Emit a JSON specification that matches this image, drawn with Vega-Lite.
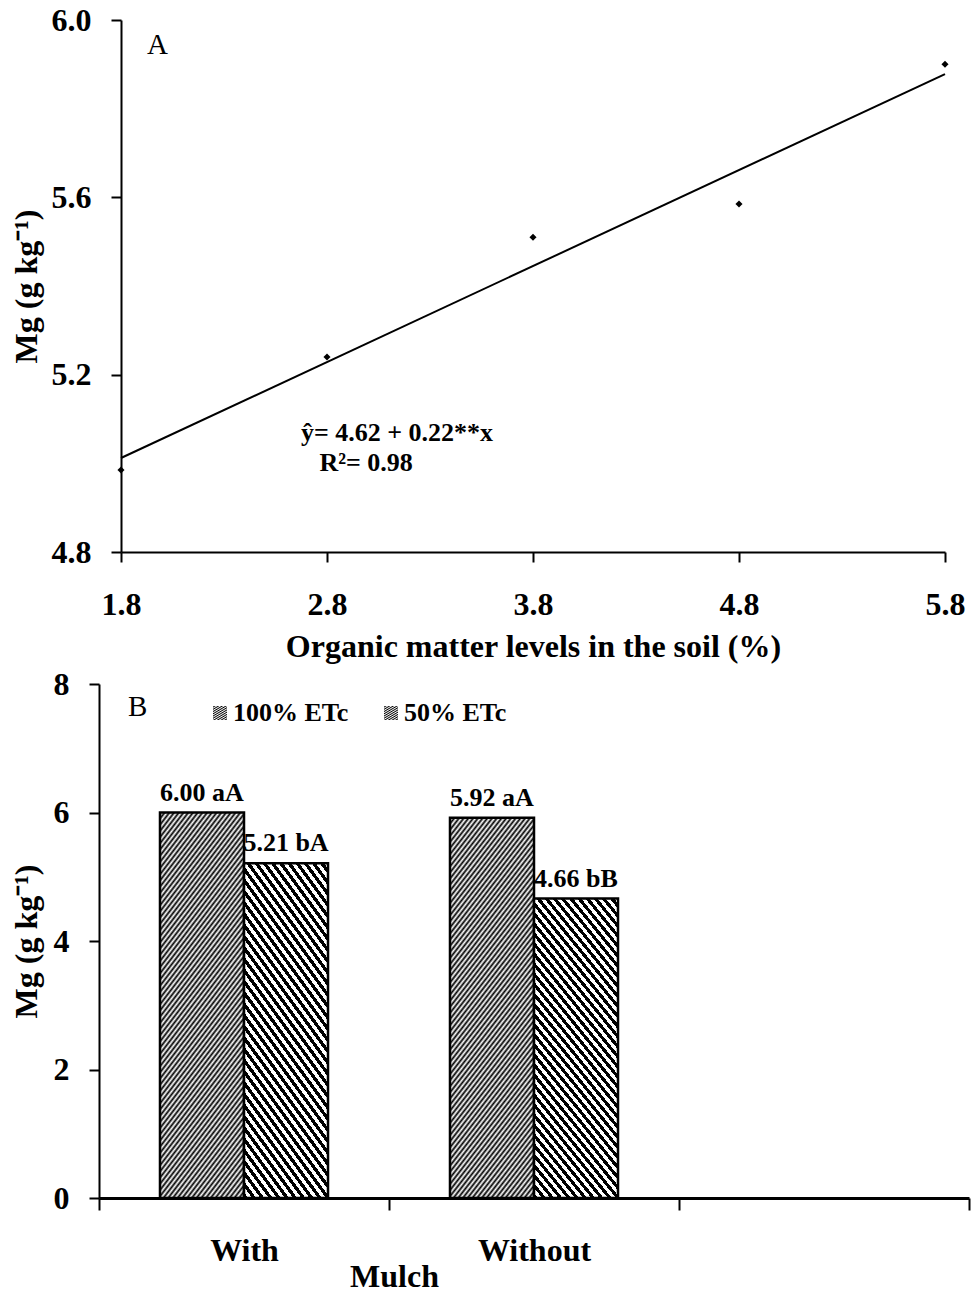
{
  "$schema": "https://vega.github.io/schema/vega-lite/v6.json",
  "background": "white",
  "padding": {"left": 10, "top": 4, "right": 0, "bottom": 0},
  "spacing": 6,
  "columns": 1,
  "align": "none",
  "config": {
    "font": "Liberation Serif",
    "view": {"stroke": null},
    "axis": {
      "grid": false,
      "domainColor": "black",
      "domainWidth": 2,
      "tickColor": "black",
      "tickWidth": 2,
      "labelColor": "black",
      "titleColor": "black",
      "labelFont": "Liberation Serif",
      "titleFont": "Liberation Serif",
      "labelFontSize": 32,
      "labelFontWeight": "bold",
      "titleFontSize": 32,
      "titleFontWeight": "bold",
      "labelFlush": false,
      "labelOverlap": false
    }
  },
  "concat": [
    {
      "width": 824,
      "height": 532,
      "layer": [
        {
          "data": {"values": [
            {"om": 1.8, "mg": 4.985},
            {"om": 2.8, "mg": 5.24},
            {"om": 3.8, "mg": 5.51},
            {"om": 4.8, "mg": 5.585},
            {"om": 5.8, "mg": 5.9}
          ]},
          "mark": {"type": "point", "shape": "diamond", "filled": true, "color": "black", "size": 50, "opacity": 1},
          "encoding": {
            "x": {"field": "om", "type": "quantitative",
              "scale": {"domain": [1.8, 5.8], "nice": false, "zero": false},
              "axis": {"values": [1.8, 2.8, 3.8, 4.8, 5.8], "format": ".1f", "title": "Organic matter levels in the soil (%)", "tickSize": 10, "labelPadding": 27, "titlePadding": 11}},
            "y": {"field": "mg", "type": "quantitative",
              "scale": {"domain": [4.8, 6.0], "nice": false, "zero": false},
              "axis": {"values": [4.8, 5.2, 5.6, 6.0], "format": ".1f", "title": "Mg (g kg⁻¹)", "tickSize": 10, "labelPadding": 20, "titlePadding": 8}}
          }
        },
        {
          "data": {"values": [
            {"om": 1.8, "mg": 5.012},
            {"om": 5.8, "mg": 5.878}
          ]},
          "mark": {"type": "line", "color": "black", "strokeWidth": 2},
          "encoding": {
            "x": {"field": "om", "type": "quantitative"},
            "y": {"field": "mg", "type": "quantitative"}
          }
        },
        {
          "data": {"values": [
            {"om": 3.14, "mg": 5.068, "t": "ŷ= 4.62 + 0.22**x"},
            {"om": 2.99, "mg": 5.0, "t": "R²= 0.98"}
          ]},
          "mark": {"type": "text", "font": "Liberation Serif", "fontSize": 26, "fontWeight": "bold", "color": "black", "align": "center", "baseline": "middle"},
          "encoding": {
            "x": {"field": "om", "type": "quantitative"},
            "y": {"field": "mg", "type": "quantitative"},
            "text": {"field": "t"}
          }
        },
        {
          "data": {"values": [
            {"om": 1.926, "mg": 5.944, "t": "A"}
          ]},
          "mark": {"type": "text", "font": "Liberation Serif", "fontSize": 29, "fontWeight": "normal", "color": "black", "align": "left", "baseline": "middle"},
          "encoding": {
            "x": {"field": "om", "type": "quantitative"},
            "y": {"field": "mg", "type": "quantitative"},
            "text": {"field": "t"}
          }
        }
      ]
    },
    {
      "width": 848,
      "height": 514,
      "title": {"text": "B", "anchor": "start", "frame": "group", "offset": -54, "fontSize": 29, "fontWeight": "normal", "color": "black", "font": "Liberation Serif", "dx": 7},
      "data": {"values": [
        {"mulch": "With", "series": "100% ETc", "mg": 6.00, "label": "6.00 aA"},
        {"mulch": "With", "series": "50% ETc", "mg": 5.21, "label": "5.21 bA"},
        {"mulch": "Without", "series": "100% ETc", "mg": 5.92, "label": "5.92 aA"},
        {"mulch": "Without", "series": "50% ETc", "mg": 4.66, "label": "4.66 bB"}
      ]},
      "encoding": {
        "x": {"field": "mulch", "type": "nominal",
          "scale": {"domain": ["With", "Without", " "], "range": [-22, 848], "paddingInner": 0, "paddingOuter": 0},
          "axis": {"title": "Mulch", "labelAngle": 0, "tickBand": "extent", "tickSize": 12, "labelPadding": 25, "domainWidth": 3, "titleX": 273, "titleY": 88, "titleAlign": "center", "titleBaseline": "alphabetic"}},
        "xOffset": {"field": "series", "type": "nominal",
          "scale": {"domain": ["100% ETc", "50% ETc"], "paddingInner": 0, "paddingOuter": 0.726}},
        "y": {"field": "mg", "type": "quantitative",
          "scale": {"domain": [0, 8], "nice": false},
          "axis": {"values": [0, 2, 4, 6, 8], "title": "Mg (g kg⁻¹)", "offset": 22, "tickSize": 10, "labelPadding": 20, "titlePadding": 10}}
      },
      "layer": [
        {
          "transform": [{"filter": "datum.series === '100% ETc'"}],
          "mark": {"type": "bar", "stroke": "black", "strokeWidth": 2.5,
            "fill": {"gradient": "linear", "x1": 0, "y1": 0, "x2": 0.339, "y2": 1.188, "stops": [
{"offset":0,"color":"#000"},{"offset":0.00625,"color":"#fff"},{"offset":0.0125,"color":"#000"},{"offset":0.01875,"color":"#fff"},{"offset":0.025,"color":"#000"},{"offset":0.03125,"color":"#fff"},{"offset":0.0375,"color":"#000"},{"offset":0.04375,"color":"#fff"},
{"offset":0.05,"color":"#000"},{"offset":0.05625,"color":"#fff"},{"offset":0.0625,"color":"#000"},{"offset":0.06875,"color":"#fff"},{"offset":0.075,"color":"#000"},{"offset":0.08125,"color":"#fff"},{"offset":0.0875,"color":"#000"},{"offset":0.09375,"color":"#fff"},
{"offset":0.1,"color":"#000"},{"offset":0.10625,"color":"#fff"},{"offset":0.1125,"color":"#000"},{"offset":0.11875,"color":"#fff"},{"offset":0.125,"color":"#000"},{"offset":0.13125,"color":"#fff"},{"offset":0.1375,"color":"#000"},{"offset":0.14375,"color":"#fff"},
{"offset":0.15,"color":"#000"},{"offset":0.15625,"color":"#fff"},{"offset":0.1625,"color":"#000"},{"offset":0.16875,"color":"#fff"},{"offset":0.175,"color":"#000"},{"offset":0.18125,"color":"#fff"},{"offset":0.1875,"color":"#000"},{"offset":0.19375,"color":"#fff"},
{"offset":0.2,"color":"#000"},{"offset":0.20625,"color":"#fff"},{"offset":0.2125,"color":"#000"},{"offset":0.21875,"color":"#fff"},{"offset":0.225,"color":"#000"},{"offset":0.23125,"color":"#fff"},{"offset":0.2375,"color":"#000"},{"offset":0.24375,"color":"#fff"},
{"offset":0.25,"color":"#000"},{"offset":0.25625,"color":"#fff"},{"offset":0.2625,"color":"#000"},{"offset":0.26875,"color":"#fff"},{"offset":0.275,"color":"#000"},{"offset":0.28125,"color":"#fff"},{"offset":0.2875,"color":"#000"},{"offset":0.29375,"color":"#fff"},
{"offset":0.3,"color":"#000"},{"offset":0.30625,"color":"#fff"},{"offset":0.3125,"color":"#000"},{"offset":0.31875,"color":"#fff"},{"offset":0.325,"color":"#000"},{"offset":0.33125,"color":"#fff"},{"offset":0.3375,"color":"#000"},{"offset":0.34375,"color":"#fff"},
{"offset":0.35,"color":"#000"},{"offset":0.35625,"color":"#fff"},{"offset":0.3625,"color":"#000"},{"offset":0.36875,"color":"#fff"},{"offset":0.375,"color":"#000"},{"offset":0.38125,"color":"#fff"},{"offset":0.3875,"color":"#000"},{"offset":0.39375,"color":"#fff"},
{"offset":0.4,"color":"#000"},{"offset":0.40625,"color":"#fff"},{"offset":0.4125,"color":"#000"},{"offset":0.41875,"color":"#fff"},{"offset":0.425,"color":"#000"},{"offset":0.43125,"color":"#fff"},{"offset":0.4375,"color":"#000"},{"offset":0.44375,"color":"#fff"},
{"offset":0.45,"color":"#000"},{"offset":0.45625,"color":"#fff"},{"offset":0.4625,"color":"#000"},{"offset":0.46875,"color":"#fff"},{"offset":0.475,"color":"#000"},{"offset":0.48125,"color":"#fff"},{"offset":0.4875,"color":"#000"},{"offset":0.49375,"color":"#fff"},
{"offset":0.5,"color":"#000"},{"offset":0.50625,"color":"#fff"},{"offset":0.5125,"color":"#000"},{"offset":0.51875,"color":"#fff"},{"offset":0.525,"color":"#000"},{"offset":0.53125,"color":"#fff"},{"offset":0.5375,"color":"#000"},{"offset":0.54375,"color":"#fff"},
{"offset":0.55,"color":"#000"},{"offset":0.55625,"color":"#fff"},{"offset":0.5625,"color":"#000"},{"offset":0.56875,"color":"#fff"},{"offset":0.575,"color":"#000"},{"offset":0.58125,"color":"#fff"},{"offset":0.5875,"color":"#000"},{"offset":0.59375,"color":"#fff"},
{"offset":0.6,"color":"#000"},{"offset":0.60625,"color":"#fff"},{"offset":0.6125,"color":"#000"},{"offset":0.61875,"color":"#fff"},{"offset":0.625,"color":"#000"},{"offset":0.63125,"color":"#fff"},{"offset":0.6375,"color":"#000"},{"offset":0.64375,"color":"#fff"},
{"offset":0.65,"color":"#000"},{"offset":0.65625,"color":"#fff"},{"offset":0.6625,"color":"#000"},{"offset":0.66875,"color":"#fff"},{"offset":0.675,"color":"#000"},{"offset":0.68125,"color":"#fff"},{"offset":0.6875,"color":"#000"},{"offset":0.69375,"color":"#fff"},
{"offset":0.7,"color":"#000"},{"offset":0.70625,"color":"#fff"},{"offset":0.7125,"color":"#000"},{"offset":0.71875,"color":"#fff"},{"offset":0.725,"color":"#000"},{"offset":0.73125,"color":"#fff"},{"offset":0.7375,"color":"#000"},{"offset":0.74375,"color":"#fff"},
{"offset":0.75,"color":"#000"},{"offset":0.75625,"color":"#fff"},{"offset":0.7625,"color":"#000"},{"offset":0.76875,"color":"#fff"},{"offset":0.775,"color":"#000"},{"offset":0.78125,"color":"#fff"},{"offset":0.7875,"color":"#000"},{"offset":0.79375,"color":"#fff"},
{"offset":0.8,"color":"#000"},{"offset":0.80625,"color":"#fff"},{"offset":0.8125,"color":"#000"},{"offset":0.81875,"color":"#fff"},{"offset":0.825,"color":"#000"},{"offset":0.83125,"color":"#fff"},{"offset":0.8375,"color":"#000"},{"offset":0.84375,"color":"#fff"},
{"offset":0.85,"color":"#000"},{"offset":0.85625,"color":"#fff"},{"offset":0.8625,"color":"#000"},{"offset":0.86875,"color":"#fff"},{"offset":0.875,"color":"#000"},{"offset":0.88125,"color":"#fff"},{"offset":0.8875,"color":"#000"},{"offset":0.89375,"color":"#fff"},
{"offset":0.9,"color":"#000"},{"offset":0.90625,"color":"#fff"},{"offset":0.9125,"color":"#000"},{"offset":0.91875,"color":"#fff"},{"offset":0.925,"color":"#000"},{"offset":0.93125,"color":"#fff"},{"offset":0.9375,"color":"#000"},{"offset":0.94375,"color":"#fff"},
{"offset":0.95,"color":"#000"},{"offset":0.95625,"color":"#fff"},{"offset":0.9625,"color":"#000"},{"offset":0.96875,"color":"#fff"},{"offset":0.975,"color":"#000"},{"offset":0.98125,"color":"#fff"},{"offset":0.9875,"color":"#000"},{"offset":0.99375,"color":"#fff"},
{"offset":1,"color":"#000"}
            ]}},
          "encoding": {
            "opacity": {"field": "series", "type": "nominal",
              "scale": {"domain": ["100% ETc", "50% ETc"], "range": [1, 1]},
              "legend": {"orient": "none", "legendX": 86, "legendY": 680, "direction": "horizontal", "title": null, "symbolType": "square", "symbolSize": 196, "symbolStrokeColor": "black", "symbolStrokeWidth": 1.5, "symbolFillColor": "#555", "labelFont": "Liberation Serif", "labelFontSize": 26, "labelFontWeight": "bold", "labelColor": "black", "columnPadding": 29, "labelOffset": 0,
                "encode": {"symbols": {"update": {"fill": [{"test": "datum.value === '100% ETc'", "value": "#8a8a8a"}, {"value": "#3a3a3a"}], "stroke": {"value": "black"}, "opacity": {"value": 1}}}}}}
          }
        },
        {
          "transform": [{"filter": "datum.series === '50% ETc'"}],
          "mark": {"type": "bar", "stroke": "black", "strokeWidth": 2.5,
            "fill": {"gradient": "linear", "x1": 0, "y1": 1, "x2": 0.414, "y2": -0.202, "stops": [
{"offset":0,"color":"#000"},
{"offset":0.0125,"color":"#000"},{"offset":0.0125,"color":"#fff"},{"offset":0.025,"color":"#fff"},{"offset":0.025,"color":"#000"},
{"offset":0.0375,"color":"#000"},{"offset":0.0375,"color":"#fff"},{"offset":0.05,"color":"#fff"},{"offset":0.05,"color":"#000"},
{"offset":0.0625,"color":"#000"},{"offset":0.0625,"color":"#fff"},{"offset":0.075,"color":"#fff"},{"offset":0.075,"color":"#000"},
{"offset":0.0875,"color":"#000"},{"offset":0.0875,"color":"#fff"},{"offset":0.1,"color":"#fff"},{"offset":0.1,"color":"#000"},
{"offset":0.1125,"color":"#000"},{"offset":0.1125,"color":"#fff"},{"offset":0.125,"color":"#fff"},{"offset":0.125,"color":"#000"},
{"offset":0.1375,"color":"#000"},{"offset":0.1375,"color":"#fff"},{"offset":0.15,"color":"#fff"},{"offset":0.15,"color":"#000"},
{"offset":0.1625,"color":"#000"},{"offset":0.1625,"color":"#fff"},{"offset":0.175,"color":"#fff"},{"offset":0.175,"color":"#000"},
{"offset":0.1875,"color":"#000"},{"offset":0.1875,"color":"#fff"},{"offset":0.2,"color":"#fff"},{"offset":0.2,"color":"#000"},
{"offset":0.2125,"color":"#000"},{"offset":0.2125,"color":"#fff"},{"offset":0.225,"color":"#fff"},{"offset":0.225,"color":"#000"},
{"offset":0.2375,"color":"#000"},{"offset":0.2375,"color":"#fff"},{"offset":0.25,"color":"#fff"},{"offset":0.25,"color":"#000"},
{"offset":0.2625,"color":"#000"},{"offset":0.2625,"color":"#fff"},{"offset":0.275,"color":"#fff"},{"offset":0.275,"color":"#000"},
{"offset":0.2875,"color":"#000"},{"offset":0.2875,"color":"#fff"},{"offset":0.3,"color":"#fff"},{"offset":0.3,"color":"#000"},
{"offset":0.3125,"color":"#000"},{"offset":0.3125,"color":"#fff"},{"offset":0.325,"color":"#fff"},{"offset":0.325,"color":"#000"},
{"offset":0.3375,"color":"#000"},{"offset":0.3375,"color":"#fff"},{"offset":0.35,"color":"#fff"},{"offset":0.35,"color":"#000"},
{"offset":0.3625,"color":"#000"},{"offset":0.3625,"color":"#fff"},{"offset":0.375,"color":"#fff"},{"offset":0.375,"color":"#000"},
{"offset":0.3875,"color":"#000"},{"offset":0.3875,"color":"#fff"},{"offset":0.4,"color":"#fff"},{"offset":0.4,"color":"#000"},
{"offset":0.4125,"color":"#000"},{"offset":0.4125,"color":"#fff"},{"offset":0.425,"color":"#fff"},{"offset":0.425,"color":"#000"},
{"offset":0.4375,"color":"#000"},{"offset":0.4375,"color":"#fff"},{"offset":0.45,"color":"#fff"},{"offset":0.45,"color":"#000"},
{"offset":0.4625,"color":"#000"},{"offset":0.4625,"color":"#fff"},{"offset":0.475,"color":"#fff"},{"offset":0.475,"color":"#000"},
{"offset":0.4875,"color":"#000"},{"offset":0.4875,"color":"#fff"},{"offset":0.5,"color":"#fff"},{"offset":0.5,"color":"#000"},
{"offset":0.5125,"color":"#000"},{"offset":0.5125,"color":"#fff"},{"offset":0.525,"color":"#fff"},{"offset":0.525,"color":"#000"},
{"offset":0.5375,"color":"#000"},{"offset":0.5375,"color":"#fff"},{"offset":0.55,"color":"#fff"},{"offset":0.55,"color":"#000"},
{"offset":0.5625,"color":"#000"},{"offset":0.5625,"color":"#fff"},{"offset":0.575,"color":"#fff"},{"offset":0.575,"color":"#000"},
{"offset":0.5875,"color":"#000"},{"offset":0.5875,"color":"#fff"},{"offset":0.6,"color":"#fff"},{"offset":0.6,"color":"#000"},
{"offset":0.6125,"color":"#000"},{"offset":0.6125,"color":"#fff"},{"offset":0.625,"color":"#fff"},{"offset":0.625,"color":"#000"},
{"offset":0.6375,"color":"#000"},{"offset":0.6375,"color":"#fff"},{"offset":0.65,"color":"#fff"},{"offset":0.65,"color":"#000"},
{"offset":0.6625,"color":"#000"},{"offset":0.6625,"color":"#fff"},{"offset":0.675,"color":"#fff"},{"offset":0.675,"color":"#000"},
{"offset":0.6875,"color":"#000"},{"offset":0.6875,"color":"#fff"},{"offset":0.7,"color":"#fff"},{"offset":0.7,"color":"#000"},
{"offset":0.7125,"color":"#000"},{"offset":0.7125,"color":"#fff"},{"offset":0.725,"color":"#fff"},{"offset":0.725,"color":"#000"},
{"offset":0.7375,"color":"#000"},{"offset":0.7375,"color":"#fff"},{"offset":0.75,"color":"#fff"},{"offset":0.75,"color":"#000"},
{"offset":0.7625,"color":"#000"},{"offset":0.7625,"color":"#fff"},{"offset":0.775,"color":"#fff"},{"offset":0.775,"color":"#000"},
{"offset":0.7875,"color":"#000"},{"offset":0.7875,"color":"#fff"},{"offset":0.8,"color":"#fff"},{"offset":0.8,"color":"#000"},
{"offset":0.8125,"color":"#000"},{"offset":0.8125,"color":"#fff"},{"offset":0.825,"color":"#fff"},{"offset":0.825,"color":"#000"},
{"offset":0.8375,"color":"#000"},{"offset":0.8375,"color":"#fff"},{"offset":0.85,"color":"#fff"},{"offset":0.85,"color":"#000"},
{"offset":0.8625,"color":"#000"},{"offset":0.8625,"color":"#fff"},{"offset":0.875,"color":"#fff"},{"offset":0.875,"color":"#000"},
{"offset":0.8875,"color":"#000"},{"offset":0.8875,"color":"#fff"},{"offset":0.9,"color":"#fff"},{"offset":0.9,"color":"#000"},
{"offset":0.9125,"color":"#000"},{"offset":0.9125,"color":"#fff"},{"offset":0.925,"color":"#fff"},{"offset":0.925,"color":"#000"},
{"offset":0.9375,"color":"#000"},{"offset":0.9375,"color":"#fff"},{"offset":0.95,"color":"#fff"},{"offset":0.95,"color":"#000"},
{"offset":0.9625,"color":"#000"},{"offset":0.9625,"color":"#fff"},{"offset":0.975,"color":"#fff"},{"offset":0.975,"color":"#000"},
{"offset":0.9875,"color":"#000"},{"offset":0.9875,"color":"#fff"},{"offset":1,"color":"#fff"}
            ]}},
          "encoding": {}
        },
        {
          "mark": {"type": "text", "font": "Liberation Serif", "fontSize": 26, "fontWeight": "bold", "color": "black", "align": "center", "baseline": "alphabetic", "dy": -12},
          "encoding": {
            "text": {"field": "label"}
          }
        }
      ]
    }
  ]
}
